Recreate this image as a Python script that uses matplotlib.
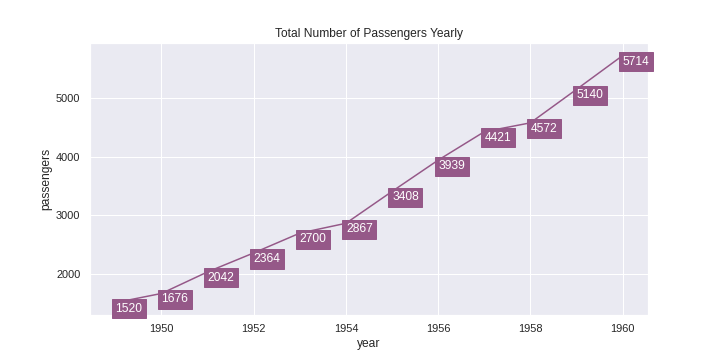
import matplotlib
matplotlib.use("Agg")
import matplotlib.pyplot as plt
import seaborn as sns

years = [1949, 1950, 1951, 1952, 1953, 1954, 1955, 1956, 1957, 1958, 1959, 1960]
passengers = [1520, 1676, 2042, 2364, 2700, 2867, 3408, 3939, 4421, 4572, 5140, 5714]

sns.set_theme(style="darkgrid", context="notebook")
plt.rcParams['font.family'] = ['Liberation Sans', 'DejaVu Sans']
col = "#955888"

fig = plt.figure(figsize=(10, 5), dpi=72)
ax = fig.add_subplot(111)
fig.subplots_adjust(left=0.125, right=0.9, top=0.88, bottom=0.125)
ax.plot(years, passengers, color=col, linewidth=1.5)
for x, y in zip(years, passengers):
    ax.text(x, y, str(y), ha="left", va="top", color="white", fontsize=12,
            bbox=dict(facecolor=col, edgecolor=col, boxstyle="square,pad=0.3"))
ax.set_title("Total Number of Passengers Yearly", fontsize=12)
ax.set_xlabel("year", fontsize=12)
ax.set_ylabel("passengers", fontsize=12)
ax.tick_params(labelsize=11)
fig.savefig("out.png", dpi=72)
